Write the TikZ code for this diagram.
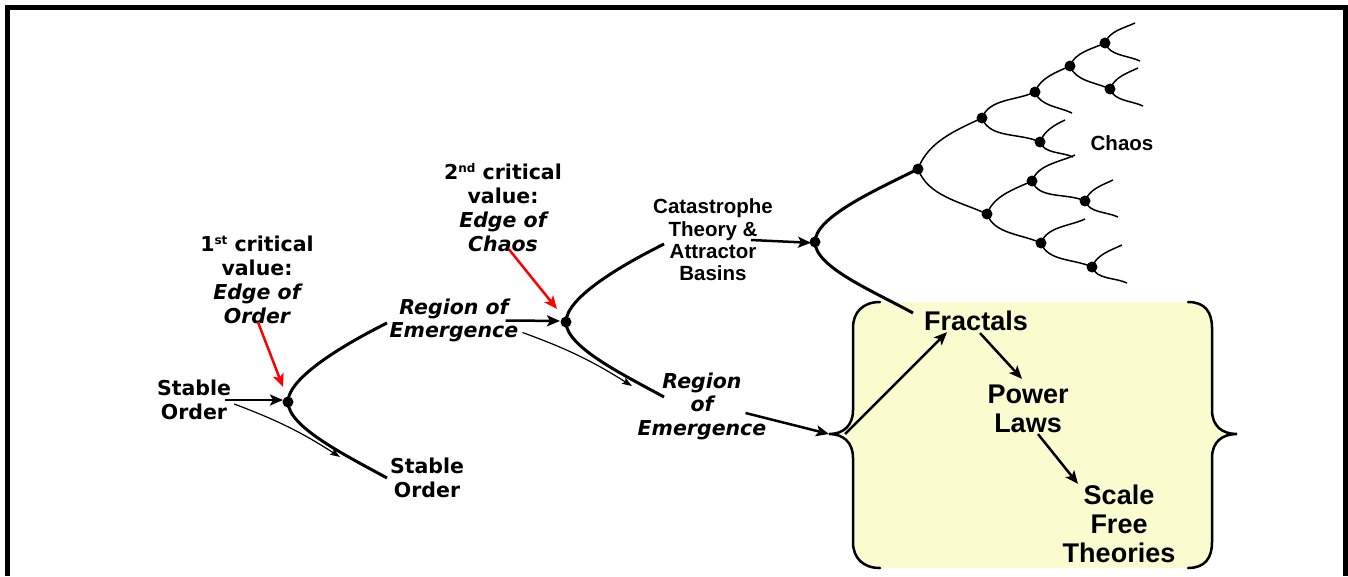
\documentclass[tikz,border=0pt]{standalone}
\usepackage{fontspec}
\newfontfamily\vfont{DejaVu Sans}
\newfontfamily\afont{Liberation Sans}
\usetikzlibrary{arrows.meta}
\definecolor{boxfill}{RGB}{250,252,208}
\newcommand\bifur[3]{\draw[thinb] (#1) to[out=70,in=205,looseness=0.9] (#2); \draw[thinb] (#1) to[out=-70,in=155,looseness=0.9] (#3);}
\newcommand\sups[1]{\raisebox{7pt}{\fontsize{12}{12}\selectfont #1}}
\begin{document}
\begin{tikzpicture}[x=1pt,y=1pt,
  vlab/.style={font=\vfont\bfseries\fontsize{20.5}{23.5}\selectfont, align=center, inner sep=0pt},
  vlabb/.style={font=\vfont\bfseries\fontsize{20.5}{24}\selectfont, align=center, inner sep=0pt},
  alab/.style={font=\afont\bfseries\fontsize{20.5}{22.3}\selectfont, align=center, inner sep=0pt},
  blab/.style={font=\afont\bfseries\fontsize{27}{29}\selectfont, align=center, inner sep=0pt},
  thickb/.style={line width=3pt},
  thinb/.style={line width=1.5pt},
  dot/.style={circle, fill=black, inner sep=0pt, minimum size=11pt},
  barrow/.style={line width=2.5pt, -{Stealth[length=13pt,width=11pt,inset=3pt]}},
  rarrow/.style={line width=2.5pt, red, -{Stealth[length=13pt,width=11pt,inset=3pt]}},
  tarrow/.style={line width=1.2pt, -{Stealth[length=10pt,width=7pt,inset=2pt]}},
  brace/.style={line width=2.5pt, line cap=round}
]
\useasboundingbox (0,0) rectangle (1348,-576);
% border
\draw[line width=5pt, line join=miter] (7.5,-576) -- (7.5,-7.5) -- (1345.5,-7.5) -- (1345.5,-576);

% yellow box with braces
\coordinate (tipL) at (829,-434);
\coordinate (tipR) at (1237,-434);
\fill[boxfill] (880,-302) .. controls (863,-302) and (853,-312) .. (853,-328) -- (853,-410)
  .. controls (853,-426) and (843,-434) .. (tipL) .. controls (843,-434) and (853,-442) .. (853,-458)
  -- (853,-542) .. controls (853,-558) and (863,-568) .. (880,-568)
  -- (1188,-568) .. controls (1205,-568) and (1212,-558) .. (1212,-542) -- (1212,-458)
  .. controls (1212,-442) and (1222,-434) .. (tipR) .. controls (1222,-434) and (1212,-426) .. (1212,-410)
  -- (1212,-328) .. controls (1212,-312) and (1205,-302) .. (1188,-302) -- cycle;
\draw[brace] (880,-302) .. controls (863,-302) and (853,-312) .. (853,-328) -- (853,-410)
  .. controls (853,-426) and (843,-434) .. (tipL) .. controls (843,-434) and (853,-442) .. (853,-458)
  -- (853,-542) .. controls (853,-558) and (863,-568) .. (880,-568);
\draw[brace] (1188,-302) .. controls (1205,-302) and (1212,-312) .. (1212,-328) -- (1212,-410)
  .. controls (1212,-426) and (1222,-434) .. (tipR) .. controls (1222,-434) and (1212,-442) .. (1212,-458)
  -- (1212,-542) .. controls (1212,-558) and (1205,-568) .. (1188,-568);

% text nodes
\node[vlab] (sl) at (194,-400) {Stable\\Order};
\node[vlab] (sb) at (427,-478) {Stable\\Order};
\node[vlabb] (c1) at (257,-280) {1\sups{st} critical\\value:\\\itshape Edge of\\\itshape Order};
\node[vlabb] (c2) at (503,-208) {2\sups{nd} critical\\value:\\\itshape Edge of\\\itshape Chaos};
\node[vlab] (r1) at (454,-320.5) {\itshape Region of\\\itshape Emergence};
\node[vlab] (r2) at (702,-406) {\itshape Region\\\itshape of\\\itshape Emergence};
\node[alab] (cat) at (713,-240) {Catastrophe\\Theory \&\\Attractor\\Basins};
\node[font=\afont\bfseries\fontsize{20.5}{22}\selectfont, inner sep=0pt] (ch) at (1122,-143) {Chaos};
\node[blab] (fr) at (976,-321) {Fractals};
\node[blab] (pw) at (1028,-409) {Power\\Laws};
\node[blab] (sc) at (1119,-524) {Scale\\Free\\Theories};

% bifurcation points
\coordinate (P1) at (288,-402);
\coordinate (u1) at (387,-323);
\coordinate (d1) at (387,-478);
\coordinate (P2) at (566,-322);
\coordinate (u2) at (664,-244);
\coordinate (d2) at (664,-397);
\coordinate (A) at (815,-242);
\coordinate (B) at (918,-169);
\coordinate (aE) at (913,-313);
\draw[thickb] (u1) .. controls +(-40,-20) and +(0,25) .. (P1) .. controls +(0,-25) and +(-40,22) .. (d1);
\draw[thickb] (u2) .. controls +(-40,-20) and +(0,25) .. (P2) .. controls +(0,-25) and +(-40,22) .. (d2);
\draw[thickb] (B) .. controls +(-42,-21) and +(0,25) .. (A) .. controls +(0,-25) and +(-40,22) .. (aE);

% chaos tree
\coordinate (C) at (982,-118);
\coordinate (D) at (987,-214);
\coordinate (E) at (1035,-92);
\coordinate (F) at (1040,-142);
\coordinate (G) at (1070,-66);
\coordinate (e1) at (1072,-113);
\coordinate (H) at (1105,-43);
\coordinate (I) at (1110,-89);
\coordinate (h1) at (1135,-23);
\coordinate (h2) at (1140,-61);
\coordinate (i1) at (1138,-68);
\coordinate (i2) at (1143,-106);
\coordinate (f1) at (1065,-120);
\coordinate (f2) at (1073,-157);
\coordinate (J) at (1032,-181);
\coordinate (K) at (1041,-243);
\coordinate (j1) at (1075,-155);
\coordinate (L) at (1085,-201);
\coordinate (l1) at (1113,-180);
\coordinate (l2) at (1118,-217);
\coordinate (k1) at (1085,-219);
\coordinate (M) at (1092,-267);
\coordinate (m1) at (1122,-245);
\coordinate (m2) at (1127,-283);
\bifur{B}{C}{D}
\bifur{C}{E}{F}
\bifur{E}{G}{e1}
\bifur{G}{H}{I}
\bifur{H}{h1}{h2}
\bifur{I}{i1}{i2}
\bifur{F}{f1}{f2}
\bifur{D}{J}{K}
\bifur{J}{j1}{L}
\bifur{L}{l1}{l2}
\bifur{K}{k1}{M}
\bifur{M}{m1}{m2}
\foreach \p in {P1,P2,A,B,C,D,E,F,G,H,I,J,K,L,M}
  \node[dot] at (\p) {};

% arrows
\coordinate (t1) at (340,-457);
\coordinate (t2) at (632,-386);
\draw[barrow, shorten >=5pt] ([xshift=-6pt]sl.east) -- ([yshift=2pt]P1);
\draw[tarrow] ([xshift=3pt,yshift=-4pt]sl.east) to[bend left=6] (t1);
\draw[rarrow] ([xshift=1pt,yshift=2pt]c1.south) -- (283,-387);
\draw[barrow, shorten >=6pt] ([xshift=-13pt]r1.east) -- ([yshift=1pt]P2);
\draw[tarrow] ([xshift=4pt,yshift=-12pt]r1.east) to[bend left=6] (t2);
\draw[rarrow] ([xshift=6pt,yshift=3pt]c2.south) -- (557,-309);
\draw[barrow, shorten >=4pt] ([xshift=-22pt]cat.east) -- ([yshift=-1pt]A);
\draw[barrow] ([xshift=-21pt,yshift=-7pt]r2.east) -- (tipL);
\draw[barrow] ([xshift=16pt]tipL) -- ([xshift=23pt,yshift=-1pt]fr.south west);
\draw[barrow] ([xshift=4pt,yshift=-2pt]fr.south) -- ([xshift=-6pt,yshift=6pt]pw.north);
\draw[barrow] ([xshift=10pt,yshift=-1pt]pw.south) -- ([xshift=-41pt,yshift=1pt]sc.north);
\end{tikzpicture}
\end{document}
